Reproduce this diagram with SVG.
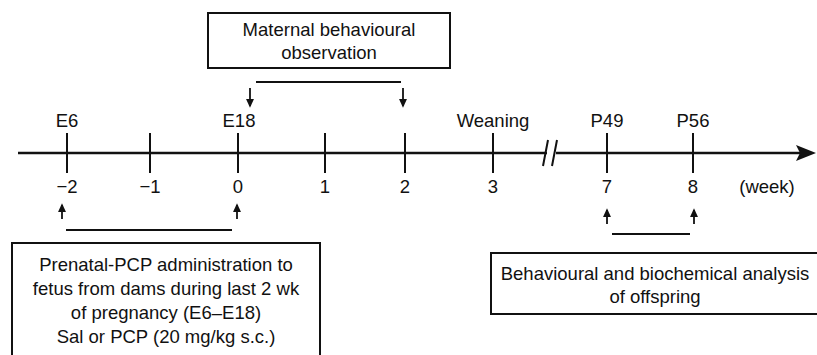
<svg xmlns="http://www.w3.org/2000/svg" width="817" height="355" viewBox="0 0 817 355">
<defs>
<style>
text{font-family:"Liberation Sans",Arial,sans-serif;font-size:18.5px;fill:#111;text-anchor:middle}
.ax{stroke:#111;stroke-width:2.5;fill:none}
.tk{stroke:#111;stroke-width:2;fill:none}
.ln{stroke:#111;stroke-width:2;fill:none}
.box{fill:#fff;stroke:#111;stroke-width:2}
.arr{stroke:#111;stroke-width:1.8;fill:none;marker-end:url(#ah)}
</style>
<marker id="ah" viewBox="0 0 10 10" refX="8" refY="5" markerWidth="9" markerHeight="9" orient="auto" markerUnits="userSpaceOnUse"><path d="M0,0.5 L10,5 L0,9.5 z" fill="#111"/></marker>
</defs>
<rect width="817" height="355" fill="#fff"/>
<g id="axis">
<path class="ax" d="M18,153 H547"/>
<path class="ax" d="M556,153 H800"/>
<path d="M816,153 L796,145 L800,153 L796,161 z" fill="#111"/>
<path class="tk" d="M543,166 L548,140 M552,166 L557,140"/>
<path class="tk" d="M67,133 V173 M150,133 V173 M238,133 V173 M325,133 V173 M405,133 V173 M493,133 V173 M607,133 V173 M693,133 V173"/>
</g>
<g id="top-labels">
<text x="67" y="127">E6</text>
<text x="239" y="127">E18</text>
<text x="493" y="127">Weaning</text>
<text x="607" y="127">P49</text>
<text x="693" y="127">P56</text>
</g>
<g id="week-labels">
<text x="67" y="193">−2</text>
<text x="150" y="193">−1</text>
<text x="238" y="193">0</text>
<text x="325" y="193">1</text>
<text x="405" y="193">2</text>
<text x="493" y="193">3</text>
<text x="607" y="193">7</text>
<text x="693" y="193">8</text>
<text x="767" y="193">(week)</text>
</g>
<g id="maternal">
<rect class="box" x="208" y="13" width="242" height="55"/>
<text x="329" y="36">Maternal behavioural</text>
<text x="329" y="59">observation</text>
</g>
<g id="prenatal">
<rect class="box" x="12" y="243" width="308" height="120"/>
<text x="166" y="271">Prenatal-PCP administration to</text>
<text x="166" y="295">fetus from dams during last 2 wk</text>
<text x="166" y="319">of pregnancy (E6–E18)</text>
<text x="166" y="343">Sal or PCP (20 mg/kg s.c.)</text>
</g>
<g id="analysis">
<rect class="box" x="491" y="253" width="330" height="61"/>
<text x="655" y="280">Behavioural and biochemical analysis</text>
<text x="655" y="303">of offspring</text>
</g>
<g id="connectors">
<path class="ln" d="M256,82 H401"/>
<path class="ln" d="M66,230 H232"/>
<path class="ln" d="M612,234 H690"/>
<path class="arr" d="M250,88 V106"/>
<path class="arr" d="M403,88 V106"/>
<path class="arr" d="M62,219 V205"/>
<path class="arr" d="M237,219 V205"/>
<path class="arr" d="M607,224 V210"/>
<path class="arr" d="M694,224 V210"/>
</g>
</svg>
